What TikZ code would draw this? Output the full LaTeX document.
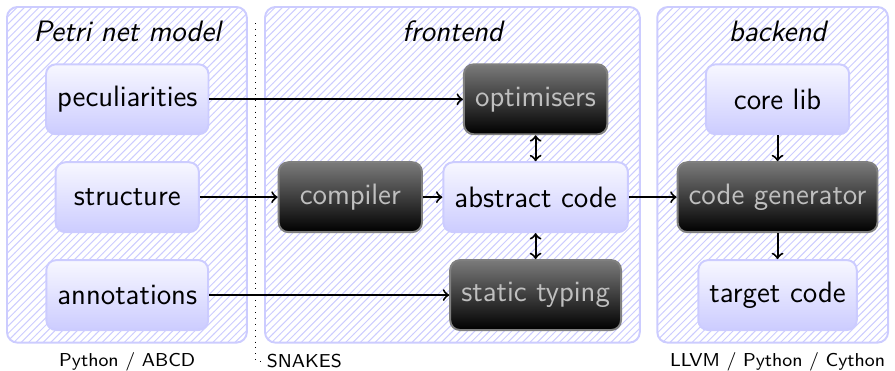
\documentclass[tikz,border=0pt]{standalone}
\usetikzlibrary{patterns}
\usepackage{xcolor}

\begin{document}
\begin{tikzpicture}[>=to, font=\sffamily\fontsize{12}{14}\selectfont]
        % ================= 样式定义 =================
        \tikzset{
            % 背景面板:浅蓝斜线
            panel/.style={draw=blue!20, thick, rounded corners=1.5mm, pattern=north east lines, pattern color=blue!20},
            % 浅色模块
            lbox/.style={rectangle, rounded corners=1.4mm, draw=blue!20, thick, top color=blue!3, bottom color=blue!20,
                         minimum width=2.05cm, minimum height=1cm, inner xsep=4.5pt},
            % 深色模块
            dbox/.style={rectangle, rounded corners=1.4mm, draw=black!50, thick, top color=black!52, bottom color=black,
                         text=black!25, minimum width=2.05cm, minimum height=1cm, inner xsep=4.5pt},
            % 面板标题与底部说明
            ptitle/.style={anchor=base, font=\sffamily\itshape\fontsize{12}{14}\selectfont},
            lang/.style={anchor=base, font=\sffamily\fontsize{7.6}{9}\selectfont},
            % 箭头
            link/.style={->, thick}
        }
        \useasboundingbox (0,0) rectangle (12.8,-5.305);

        % ================= 1. 三个面板 =================
        \draw[panel] (0.10,-0.10) rectangle (3.53,-4.90);
        \draw[panel] (3.79,-0.10) rectangle (9.15,-4.90);
        \draw[panel] (9.40,-0.10) rectangle (12.70,-4.90);

        \node[ptitle] (tpn) at (1.82,-0.60) {Petri net model};
        \node[ptitle] (tfe) at (6.47,-0.60) {frontend};
        \node[ptitle] (tbe) at (11.12,-0.60) {backend};

        % ================= 2. Petri net model =================
        \node[lbox] (pec) at (1.82,-1.42) {peculiarities};
        \node[lbox] (str) at (1.82,-2.82) {structure};
        \node[lbox] (ann) at (1.82,-4.22) {annotations};

        % ================= 3. frontend =================
        \node[dbox] (opt) at (7.66,-1.42) {optimisers};
        \node[dbox] (cmp) at (5.01,-2.82) {compiler};
        \node[lbox] (abs) at (7.66,-2.82) {abstract code};
        \node[dbox] (typ) at (7.66,-4.22) {static typing};

        % ================= 4. backend =================
        \node[lbox] (lib) at (11.12,-1.42) {core lib};
        \node[dbox] (gen) at (11.12,-2.82) {code generator};
        \node[lbox] (tgt) at (11.12,-4.22) {target code};

        % ================= 5. 连线 =================
        \draw[link] (pec) -- (opt);
        \draw[link] (str) -- (cmp);
        \draw[link] (cmp) -- (abs);
        \draw[link] (ann) -- (typ);
        \draw[link] (abs) -- (gen);
        \draw[link, <->] (opt) -- (abs);
        \draw[link, <->] (abs) -- (typ);
        \draw[link] (lib) -- (gen);
        \draw[link] (gen) -- (tgt);

        % ================= 6. 底部说明 =================
        \node[lang] (lpy) at (1.82,-5.24) {Python / ABCD};
        \node[lang] (lll) at (11.12,-5.24) {LLVM / Python / Cython};
        \node[lang, anchor=base west, inner sep=1pt] (snk) at (3.775,-5.26) {SNAKES};
        \coordinate (dtop) at (3.66,-0.33);
        \draw[dotted] (dtop) |- (snk.west);

    \end{tikzpicture}
\end{document}
